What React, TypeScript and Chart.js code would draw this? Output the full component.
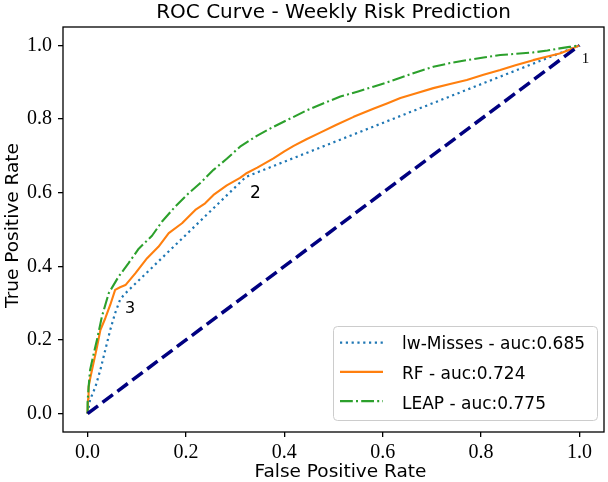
import React, { useEffect, useRef } from "react";
import { Chart, registerables } from "chart.js";

Chart.register(...registerables);

// ---- data ----
const LW_X = [0, 0.005, 0.016, 0.026, 0.036, 0.046, 0.056, 0.066, 0.074, 0.322, 1.0];
const LW_Y = [0, 0.037, 0.073, 0.119, 0.173, 0.227, 0.273, 0.309, 0.323, 0.643, 1.0];

const RF_X = [0, 0.001, 0.002, 0.006, 0.012, 0.019, 0.026, 0.036, 0.046, 0.056, 0.066, 0.077, 0.097, 0.121, 0.144, 0.165, 0.192, 0.219, 0.239, 0.256, 0.283, 0.31, 0.322, 0.345, 0.378, 0.4, 0.419, 0.445, 0.473, 0.505, 0.541, 0.581, 0.61, 0.636, 0.67, 0.703, 0.737, 0.771, 0.805, 0.839, 0.87, 0.906, 0.935, 0.96, 0.98, 1.0];
const RF_Y = [0, 0.04, 0.073, 0.1, 0.137, 0.18, 0.227, 0.259, 0.295, 0.336, 0.343, 0.349, 0.381, 0.422, 0.453, 0.49, 0.517, 0.553, 0.571, 0.594, 0.62, 0.64, 0.652, 0.668, 0.693, 0.712, 0.727, 0.745, 0.763, 0.784, 0.806, 0.828, 0.843, 0.857, 0.871, 0.884, 0.895, 0.906, 0.92, 0.933, 0.946, 0.96, 0.97, 0.978, 0.988, 1.0];

const LEAP_X = [0, 0.0, 0.002, 0.005, 0.012, 0.019, 0.029, 0.043, 0.063, 0.083, 0.104, 0.131, 0.151, 0.178, 0.205, 0.23, 0.256, 0.283, 0.31, 0.345, 0.378, 0.41, 0.446, 0.48, 0.514, 0.55, 0.581, 0.61, 0.636, 0.67, 0.703, 0.737, 0.771, 0.805, 0.839, 0.87, 0.906, 0.935, 0.96, 0.98, 1.0];
const LEAP_Y = [0, 0.03, 0.07, 0.118, 0.16, 0.2, 0.263, 0.327, 0.372, 0.408, 0.448, 0.483, 0.521, 0.562, 0.598, 0.627, 0.662, 0.692, 0.725, 0.755, 0.779, 0.8, 0.824, 0.843, 0.861, 0.875, 0.888, 0.9, 0.912, 0.928, 0.942, 0.952, 0.96, 0.967, 0.974, 0.977, 0.981, 0.986, 0.992, 0.996, 1.0];

const DIAG_X = [0, 1];
const DIAG_Y = [0, 1];

const TICKS = [0, 0.2, 0.4, 0.6, 0.8, 1.0];
const SERIES_LABELS = ["lw-Misses - auc:0.685", "RF - auc:0.724", "LEAP - auc:0.775"];
const THRESH_LABELS = ["1", "2", "3"];
const THRESH_X = [1.0, 0.322, 0.074];
const THRESH_Y = [1.0, 0.643, 0.323];

const TITLE = "ROC Curve - Weekly Risk Prediction";
const X_TITLE = "False Positive Rate";
const Y_TITLE = "True Positive Rate";

// ---- styles ----
const COLORS = ["#1f77b4", "#ff7f0e", "#2ca02c"];
const DASHES: number[][] = [[2.2, 3.6], [], [12.8, 3.2, 2, 3.2]];
const WIDTHS = [2.2, 2.1, 2.1];
const SANS = "'DejaVu Sans'";
const SERIF = "'Liberation Serif'";
const THRESH_FONTS = [`15px ${SERIF}`, `17px ${SANS}`, `16px ${SANS}`];
const THRESH_OFFSETS = [[2.4, 18], [4, 21.6], [1, 18.3]];

const zip = (xs: number[], ys: number[]) => xs.map((x, i) => ({ x, y: ys[i] }));

const overlay = {
  id: "overlay",
  afterDraw(chart: any) {
    const { ctx, chartArea: a, scales } = chart;
    const xs = scales.x;
    const ys = scales.y;
    ctx.save();
    // frame
    ctx.strokeStyle = "#000";
    ctx.lineWidth = 1.3;
    ctx.setLineDash([]);
    ctx.strokeRect(a.left, a.top, a.right - a.left, a.bottom - a.top);

    ctx.fillStyle = "#000";
    // title
    ctx.font = `20px ${SANS}`;
    ctx.textAlign = "center";
    ctx.textBaseline = "alphabetic";
    ctx.fillText(TITLE, (a.left + a.right) / 2, a.top - 8.7);
    // x title
    ctx.font = `18.5px ${SANS}`;
    ctx.fillText(X_TITLE, (a.left + a.right) / 2 + 7, a.bottom + 44.7);
    // y title
    ctx.save();
    ctx.translate(17.5, (a.top + a.bottom) / 2 - 4);
    ctx.rotate(-Math.PI / 2);
    ctx.fillText(Y_TITLE, 0, 0);
    ctx.restore();

    // threshold annotations
    ctx.textAlign = "left";
    THRESH_LABELS.forEach((t, i) => {
      const px = xs.getPixelForValue(THRESH_X[i]);
      const py = ys.getPixelForValue(THRESH_Y[i]);
      ctx.font = THRESH_FONTS[i];
      ctx.fillText(t, px + THRESH_OFFSETS[i][0], py + THRESH_OFFSETS[i][1]);
    });

    // legend
    const w = 264;
    const h = 94;
    const lx = a.right - 7 - w;
    const ly = a.bottom - 12 - h;
    ctx.beginPath();
    (ctx as any).roundRect(lx + 0.5, ly + 0.5, w, h, 4);
    ctx.fillStyle = "rgba(255,255,255,0.8)";
    ctx.fill();
    ctx.strokeStyle = "#cccccc";
    ctx.lineWidth = 1;
    ctx.stroke();
    ctx.font = `17px ${SANS}`;
    ctx.textAlign = "left";
    ctx.textBaseline = "alphabetic";
    SERIES_LABELS.forEach((lab, i) => {
      const sy = ly + 16.7 + i * 29.2;
      ctx.beginPath();
      ctx.strokeStyle = COLORS[i];
      ctx.lineWidth = WIDTHS[i];
      ctx.setLineDash(DASHES[i]);
      ctx.moveTo(lx + 7, sy);
      ctx.lineTo(lx + 50, sy);
      ctx.stroke();
      ctx.setLineDash([]);
      ctx.fillStyle = "#000";
      ctx.fillText(lab, lx + 69, ly + 23.3 + i * 30);
    });
    ctx.restore();
  },
};

export default function App() {
  const ref = useRef<HTMLCanvasElement | null>(null);
  useEffect(() => {
    document.body.style.margin = "0";
    if (!ref.current) return;
    const series = [zip(LW_X, LW_Y), zip(RF_X, RF_Y), zip(LEAP_X, LEAP_Y)];
    const datasets: any[] = series.map((d, i) => ({
      label: SERIES_LABELS[i],
      data: d,
      showLine: true,
      borderColor: COLORS[i],
      backgroundColor: COLORS[i],
      borderWidth: WIDTHS[i],
      borderDash: DASHES[i],
      borderCapStyle: "butt",
      borderJoinStyle: "round",
      pointRadius: 0,
      tension: 0,
      fill: false,
      order: 3 - i,
    }));
    datasets.push({
      label: "diag",
      data: zip(DIAG_X, DIAG_Y),
      showLine: true,
      borderColor: "#000080",
      borderWidth: 3.5,
      borderDash: [13, 5.6],
      borderCapStyle: "butt",
      pointRadius: 0,
      fill: false,
      order: 0,
    });
    const tickCfg = {
      font: { family: "Liberation Serif", size: 20 },
      color: "#000",
      callback: (v: any) => Number(v).toFixed(1),
    };
    const gridCfg = {
      display: true,
      drawOnChartArea: false,
      drawTicks: true,
      tickLength: 5,
      color: "#000",
      lineWidth: 1.3,
    };
    const chart = new Chart(ref.current, {
      type: "scatter",
      data: { datasets },
      options: {
        animation: false,
        responsive: false,
        devicePixelRatio: 1,
        layout: { padding: { top: 27, right: 4, left: 0, bottom: 0 } },
        plugins: { legend: { display: false }, tooltip: { enabled: false }, title: { display: false } },
        scales: {
          x: {
            type: "linear",
            min: -0.05,
            max: 1.05,
            grid: gridCfg,
            border: { display: false },
            ticks: { ...tickCfg, padding: 4, maxRotation: 0 },
            afterBuildTicks: (s: any) => {
              s.ticks = TICKS.map((v) => ({ value: v }));
            },
            afterFit: (s: any) => {
              s.height = 50;
            },
          },
          y: {
            type: "linear",
            min: -0.05,
            max: 1.05,
            grid: gridCfg,
            border: { display: false },
            ticks: { ...tickCfg, padding: 6 },
            afterBuildTicks: (s: any) => {
              s.ticks = TICKS.map((v) => ({ value: v }));
            },
            afterFit: (s: any) => {
              s.width = 63;
            },
          },
        },
      } as any,
      plugins: [overlay],
    });
    return () => chart.destroy();
  }, []);
  return <canvas ref={ref} width={608} height={482} style={{ display: "block" }} />;
}
